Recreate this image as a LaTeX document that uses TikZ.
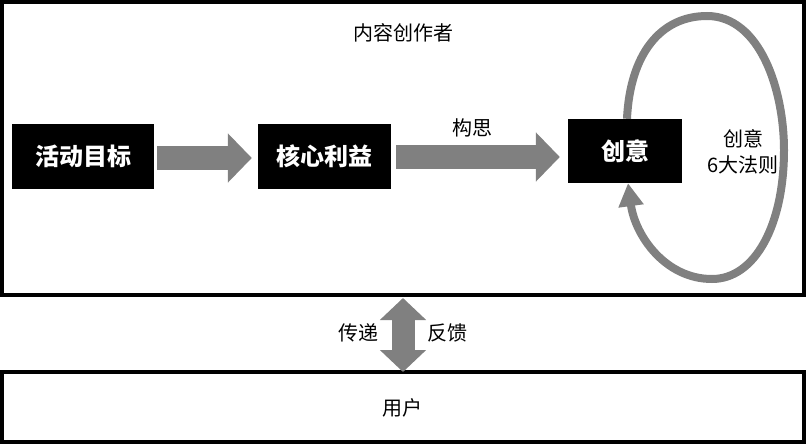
\documentclass[tikz,border=0pt]{standalone}
\usepackage{fontspec}
\setmainfont{Noto Sans CJK SC}
\usetikzlibrary{arrows.meta,calc}
\definecolor{arrowgray}{RGB}{128,128,128}
\tikzset{
  framebox/.style={draw=black, line width=4pt, inner sep=0pt},
  blackbox/.style={fill=black, text=white, inner sep=0pt, font=\fontsize{24}{28}\selectfont\bfseries},
  plaintext/.style={inner sep=0pt, font=\fontsize{20}{26}\selectfont, align=center},
  blockarrow/.style={draw=arrowgray, line width=24pt, -{Triangle[length=24pt,width=48pt]}},
  dblarrow/.style={draw=arrowgray, line width=23pt, {Triangle[length=22pt,width=45pt]}-{Triangle[length=22pt,width=45pt]}},
  loopline/.style={draw=arrowgray, line width=8pt, -{Triangle[length=23pt,width=24pt]}}
}
\begin{document}
\begin{tikzpicture}[x=1pt,y=-1pt]
\useasboundingbox (0,0) rectangle (806,444);
% frames
\node[framebox, minimum width=802pt, minimum height=293pt] (frame) at (403,148.5) {};
\node[framebox, minimum width=802pt, minimum height=70pt] (user) at (403,407) {};
\node[plaintext] (userlbl) at (402,408) {用户};
\node[plaintext] (title) at (403,33) {内容创作者};
% boxes
\node[blackbox, minimum width=142pt, minimum height=65pt] (goal) at (83,156.5) {活动目标};
\node[blackbox, minimum width=133pt, minimum height=65pt] (core) at (324.5,156.5) {核心利益};
\node[blackbox, minimum width=114pt, minimum height=64pt] (idea) at (625,151) {创意};
% arrows
\draw[blockarrow] ([shift={(3,1.5)}]goal.east) -- ([shift={(-6,1.5)}]core.west);
\draw[blockarrow] ([shift={(5,0.5)}]core.east) -- ([shift={(-8,0.5)}]core.east -| idea.west);
\node[plaintext] (gousi) at (472,128) {构思};
% loop
\coordinate (looptop) at (707,16);
\coordinate (loopright) at (784,150);
\coordinate (loopbottom) at (712,279);
\draw[loopline] ([xshift=2pt]idea.north) .. controls +(3,-64) and +(-47,0) .. (looptop)
  .. controls +(53,0) and +(0,-60) .. (loopright)
  .. controls +(0,75) and +(43,0) .. (loopbottom)
  .. controls +(-47,0) and +(7,52) .. ([xshift=3pt]idea.south);
\node[plaintext] (rules) at (743,152) {创意\\6大法则};
% user arrow
\draw[dblarrow, shorten <=1pt] (frame.south) -- ([shift={(0,2)}]user.north);
\node[plaintext] (chuandi) at (358,333) {传递};
\node[plaintext] (fankui) at (447,333) {反馈};
\end{tikzpicture}
\end{document}
